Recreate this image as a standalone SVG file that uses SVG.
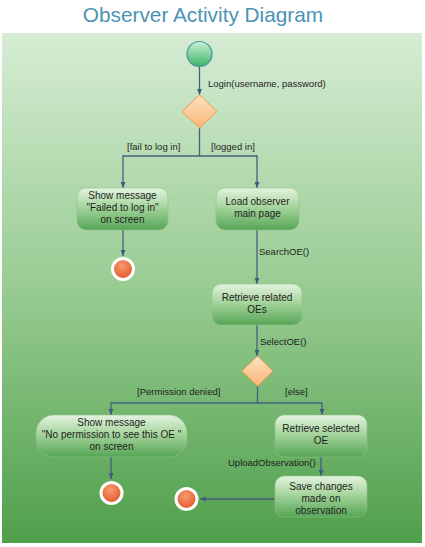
<svg xmlns="http://www.w3.org/2000/svg" width="425" height="547" viewBox="0 0 425 547">
<defs>
<linearGradient id="bg" x1="0" y1="0" x2="0" y2="1">
<stop offset="0" stop-color="#d6ecd4"/>
<stop offset="0.5" stop-color="#98cc92"/>
<stop offset="1" stop-color="#4f9f4b"/>
</linearGradient>
<linearGradient id="box" x1="0" y1="0" x2="0" y2="1">
<stop offset="0" stop-color="#e4f3df"/>
<stop offset="0.45" stop-color="#a6d59d"/>
<stop offset="1" stop-color="#56a556"/>
</linearGradient>
<linearGradient id="start" x1="0" y1="0" x2="0" y2="1">
<stop offset="0" stop-color="#c9f0d6"/>
<stop offset="1" stop-color="#3db665"/>
</linearGradient>
<linearGradient id="dia" x1="0" y1="0" x2="0" y2="1">
<stop offset="0" stop-color="#fde3c4"/>
<stop offset="1" stop-color="#fbb577"/>
</linearGradient>
<radialGradient id="endg" cx="0.45" cy="0.35" r="0.7">
<stop offset="0" stop-color="#f79a72"/>
<stop offset="1" stop-color="#e2501f"/>
</radialGradient>
<marker id="arr" viewBox="0 0 10 10" refX="10" refY="5" markerWidth="6" markerHeight="6" orient="auto-start-reverse" markerUnits="userSpaceOnUse">
<path d="M0,1 L10,5 L0,9 z" fill="#3f5a7e"/>
</marker>
</defs>
<style>
.act{fill:url(#box);stroke:#8fc486;stroke-width:0.6}
.t{font-family:"Liberation Sans",Arial,sans-serif;font-size:10px;fill:#1e1e1e;text-anchor:middle}
.lbl{font-family:"Liberation Sans",Arial,sans-serif;font-size:9.5px;fill:#1e1e1e}
.c{fill:none;stroke:#43607f;stroke-width:1.3}
.end{fill:url(#endg);stroke:#ffffff;stroke-width:3}
.dec{fill:url(#dia);stroke:#f39a45;stroke-width:1}
</style>
<rect x="0" y="0" width="425" height="547" fill="#ffffff"/>
<rect x="2" y="33" width="420" height="510" fill="url(#bg)"/>
<text x="203" y="22" font-family="'Liberation Sans',Arial,sans-serif" font-size="20.8" fill="#4b93b4" text-anchor="middle">Observer Activity Diagram</text>

<g id="connectors">
<line class="c" x1="199.5" y1="67" x2="199.5" y2="95" marker-end="url(#arr)"/>
<polyline class="c" points="199.5,128 199.5,156"/>
<polyline class="c" points="123,188 123,156 257,156 257,188" marker-start="url(#arr)" marker-end="url(#arr)"/>
<line class="c" x1="123" y1="230" x2="123" y2="256" marker-end="url(#arr)"/>
<line class="c" x1="257" y1="230" x2="257" y2="284" marker-end="url(#arr)"/>
<line class="c" x1="257" y1="325" x2="257" y2="356" marker-end="url(#arr)"/>
<polyline class="c" points="257.5,386 257.5,403"/>
<polyline class="c" points="111,415 111,403 322,403 322,415" marker-start="url(#arr)" marker-end="url(#arr)"/>
<line class="c" x1="111" y1="457" x2="111" y2="479" marker-end="url(#arr)"/>
<line class="c" x1="321" y1="457" x2="321" y2="476" marker-end="url(#arr)"/>
<line class="c" x1="275" y1="499" x2="200" y2="499" marker-end="url(#arr)"/>
<text class="lbl" x="208" y="87">Login(username, password)</text>
<text class="lbl" x="127" y="150">[fail to log in]</text>
<text class="lbl" x="211" y="150">[logged in]</text>
<text class="lbl" x="259" y="255">SearchOE()</text>
<text class="lbl" x="260" y="345">SelectOE()</text>
<text class="lbl" x="137" y="395">[Permission denied]</text>
<text class="lbl" x="285" y="395">[else]</text>
<text class="lbl" x="228" y="466">UploadObservation()</text>
</g>

<g id="start"><circle cx="199.5" cy="54" r="12.5" fill="url(#start)" stroke="#4a8f9a" stroke-width="1.2"/></g>
<g id="decision1"><polygon class="dec" points="199.5,95 217,111.5 199.5,128 182,111.5"/></g>

<g id="failmsg"><rect class="act" x="77" y="188" width="91" height="42" rx="9"/>
<text class="t" x="122.5" y="199">Show message</text>
<text class="t" x="122.5" y="211">"Failed to log in"</text>
<text class="t" x="122.5" y="223">on screen</text></g>

<g id="end1"><circle class="end" cx="123" cy="269" r="10.5"/></g>

<g id="loadmain"><rect class="act" x="216" y="188" width="83" height="42" rx="9"/>
<text class="t" x="257.5" y="205">Load observer</text>
<text class="t" x="257.5" y="217">main page</text></g>

<g id="retrieverelated"><rect class="act" x="212" y="284" width="90" height="41" rx="9"/>
<text class="t" x="257" y="301">Retrieve related</text>
<text class="t" x="257" y="313">OEs</text></g>

<g id="decision2"><polygon class="dec" points="257.5,356 273,371 257.5,386 242,371"/></g>

<g id="nopermission"><rect class="act" x="36" y="415" width="151" height="42" rx="18"/>
<text class="t" x="111.5" y="426">Show message</text>
<text class="t" x="111.5" y="438">"No permission to see this OE "</text>
<text class="t" x="111.5" y="450">on screen</text></g>

<g id="end2"><circle class="end" cx="111.5" cy="493" r="10.5"/></g>

<g id="retrieveselected"><rect class="act" x="275" y="415" width="92" height="42" rx="9"/>
<text class="t" x="321" y="432">Retrieve selected</text>
<text class="t" x="321" y="444">OE</text></g>

<g id="savechanges"><rect class="act" x="275" y="476" width="92" height="41" rx="9"/>
<text class="t" x="321" y="490">Save changes</text>
<text class="t" x="321" y="502">made on</text>
<text class="t" x="321" y="514">observation</text></g>

<g id="end3"><circle class="end" cx="186.5" cy="499" r="10.5"/></g>
</svg>
